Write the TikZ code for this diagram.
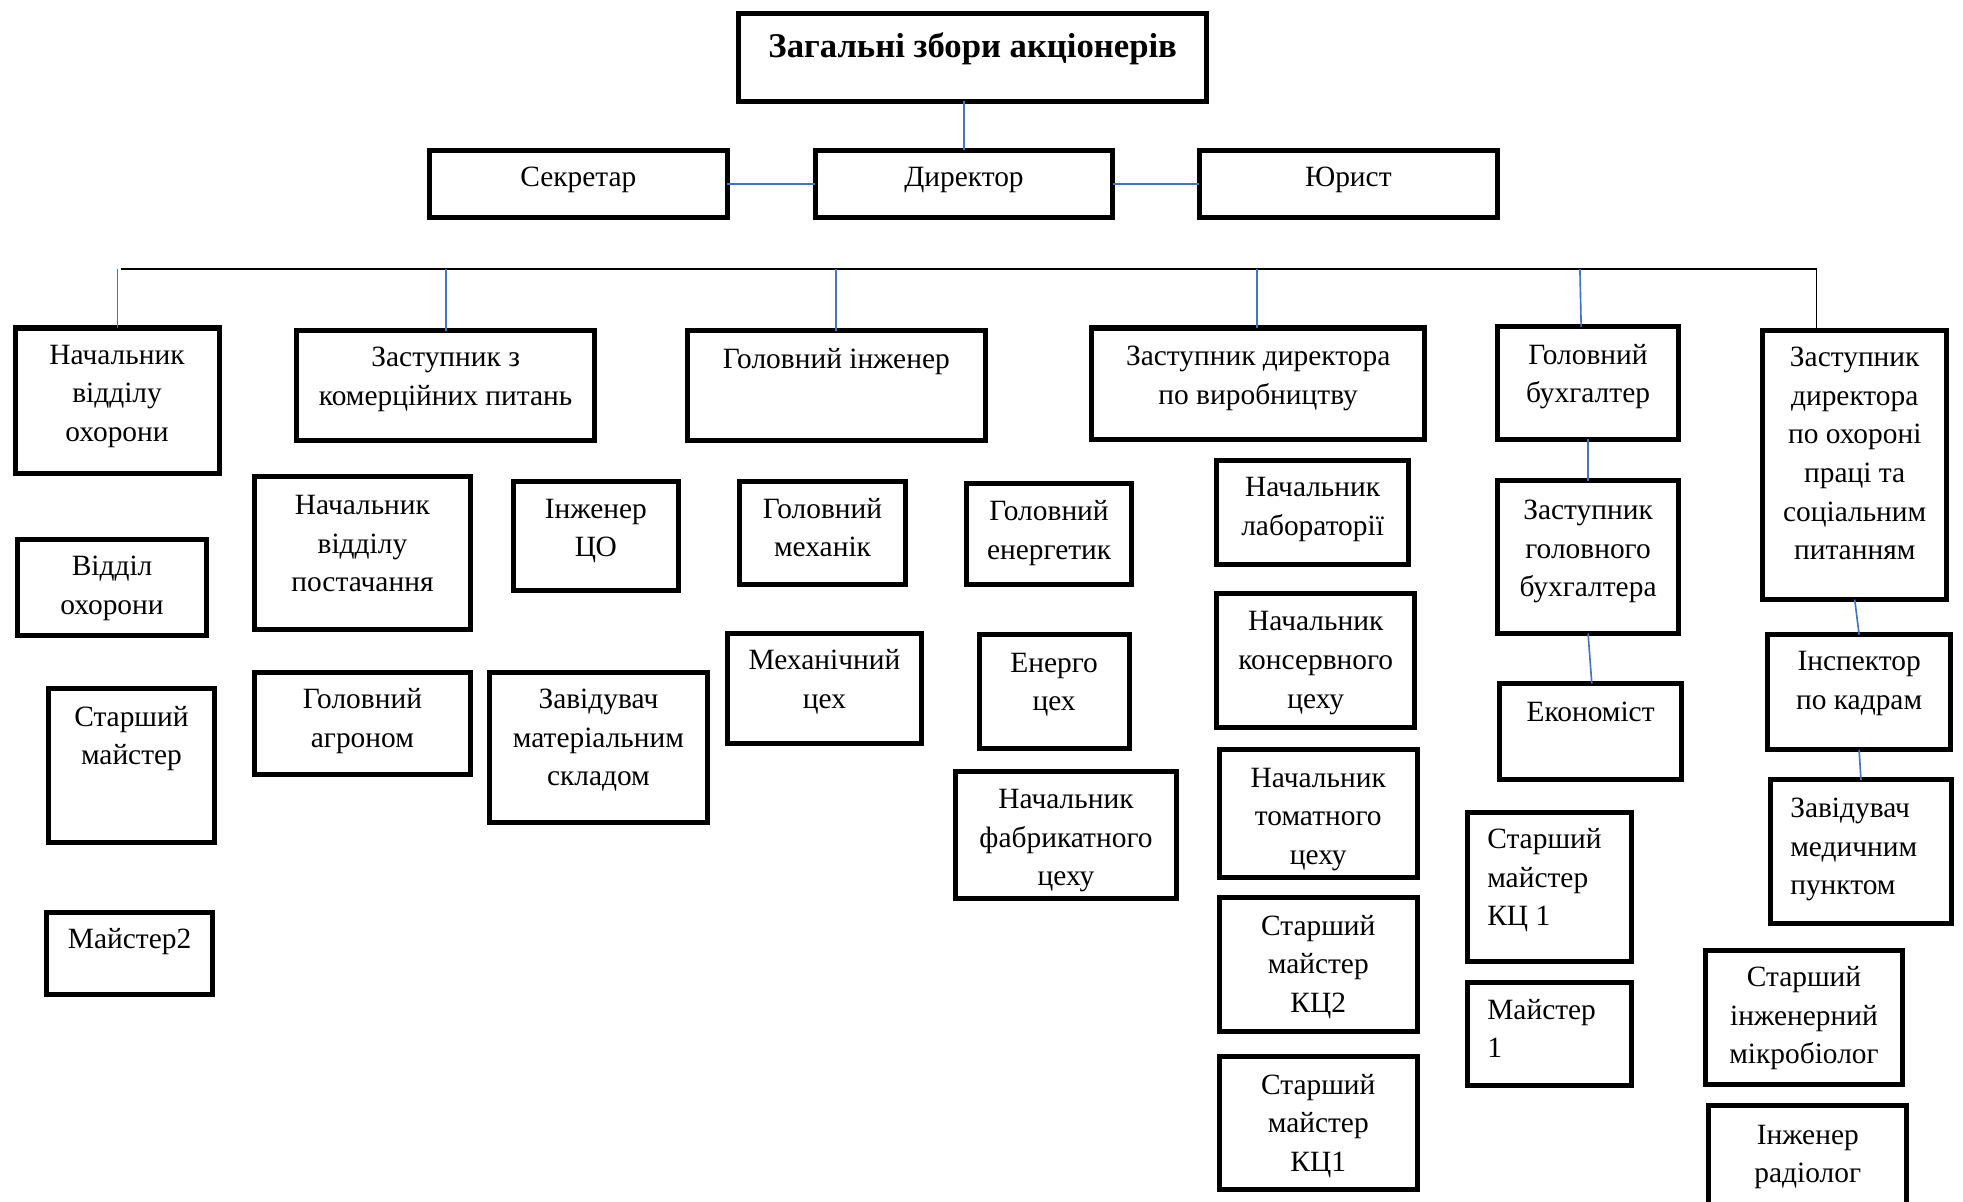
\documentclass[tikz,border=0pt]{standalone}
\usepackage{fontspec}
\setmainfont{Liberation Serif}
\definecolor{linkblue}{HTML}{4472C4}
\tikzset{
  box/.style={draw=black, line width=4pt, rectangle, inner sep=0pt, outer sep=0pt, fill=none},
  txt/.style={inner sep=0pt, outer sep=0pt, font=\fontsize{23.5}{30.8}\selectfont},
  bl/.style={draw=linkblue, line width=1.3pt},
  blk/.style={draw=black, line width=1.8pt},
}
\newcommand{\bx}[7]{%
  \node[box, minimum width={#4-#2-4}, minimum height={#5-#3-4}] (#1) at ({(#2+#4)/2},{(#3+#5)/2}) {};
  \node[txt, align=center, anchor=north] (#1t) at ({(#2+#4)/2},{#6-14.6}) {\strut#7};}
\newcommand{\bxl}[8]{%
  \node[box, minimum width={#4-#2-4}, minimum height={#5-#3-4}] (#1) at ({(#2+#4)/2},{(#3+#5)/2}) {};
  \node[txt, align=left, anchor=north west] (#1t) at (#7,{#6-14.6}) {\strut#8};}
\begin{document}
\begin{tikzpicture}[x=1pt, y=-1pt]
\useasboundingbox (0,0) rectangle (1568,960);
\clip (0,0) rectangle (1568,960);
% top levels
\node[box, minimum width=374, minimum height=70] (top) at (777,46) {};
\node[txt, anchor=north, font=\fontsize{27.7}{33}\selectfont\bfseries] (topt) at (777,{38+8-23.1}) {\strut Загальні збори акціонерів};
\bx{sec}{341}{118}{583}{176}{142}{Секретар}
\bx{dir}{649}{118}{891}{176}{142}{Директор}
\bx{jur}{956}{118}{1198}{176}{142}{Юрист}
% row 1
\bx{a1}{10}{260}{177}{380}{284}{Начальник\\відділу\\охорони}
\bx{b1}{235}{262}{477}{354}{286}{Заступник з\\комерційних питань}
\bx{c1}{547}{262}{789}{354}{287}{Головний інженер}
\bx{d1}{870}{260}{1140}{353}{285}{Заступник директора\\по виробництву}
\bx{e1}{1194}{259}{1343}{353}{284}{Головний\\бухгалтер}
\bx{f1}{1406}{262}{1557}{481}{286}{Заступник\\директора\\по охороні\\праці та\\соціальним\\питанням}
% column a
\bx{a2}{12}{429}{167}{510}{453}{Відділ\\охорони}
\bx{a3}{37}{548}{173}{675}{573}{Старший\\майстер}
\bx{a4}{35}{727}{172}{796}{751}{Майстер2}
% column b
\bx{b2}{201}{379}{378}{505}{404}{Начальник\\відділу\\постачання}
\bx{b3}{201}{535}{378}{621}{559}{Головний\\агроном}
\bx{b4}{408}{383}{544}{474}{407}{Інженер\\ЦО}
\bx{b5}{389}{535}{567}{659}{559}{Завідувач\\матеріальним\\складом}
% column c
\bx{c2}{589}{383}{725}{469}{407}{Головний\\механік}
\bx{c3}{579}{504}{738}{596}{528}{Механічний\\цех}
\bx{c4}{770}{384}{906}{469}{409}{Головний\\енергетик}
\bx{c5}{780}{505}{904}{600}{530}{Енерго\\цех}
\bx{c6}{761}{614}{942}{720}{639}{Начальник\\фабрикатного\\цеху}
% column d
\bx{d2}{970}{366}{1127}{453}{390}{Начальник\\лабораторії}
\bx{d3}{970}{472}{1132}{583}{497}{Начальник\\консервного\\цеху}
\bx{d4}{972}{597}{1134}{703}{622}{Начальник\\томатного\\цеху}
\bx{d5}{972}{715}{1134}{826}{740}{Старший\\майстер\\КЦ2}
\bx{d6}{972}{842}{1134}{952}{867}{Старший\\майстер\\КЦ1}
% column e
\bx{e2}{1194}{382}{1343}{508}{408}{Заступник\\головного\\бухгалтера}
\bx{e3}{1196}{544}{1345}{625}{569}{Економіст}
\bxl{e4}{1170}{647}{1305}{770}{671}{1188}{Старший\\майстер\\КЦ 1}
\bxl{e5}{1170}{783}{1305}{869}{807}{1188}{Майстер\\1}
% column f
\bx{f2}{1410}{505}{1560}{601}{529}{Інспектор\\по кадрам}
\bxl{f3}{1412}{621}{1561}{740}{646}{1430}{Завідувач\\медичним\\пунктом}
\bx{f4}{1360}{757}{1522}{868}{781}{Старший\\інженерний\\мікробіолог}
\bx{f5}{1363}{881}{1525}{995}{907}{Інженер\\радіолог}
% connectors top
\draw[bl] (dir.north) -- (dir.north |- top.south);
\draw[bl] (sec.east) -- (dir.west);
\draw[bl] (dir.east) -- (jur.west);
% bus
\coordinate (busL) at (97,215);
\coordinate (busR) at (1451,215);
\draw[blk] (busL) -- (busR);
\coordinate (ja) at (94,215);
\coordinate (jb) at (356,215);
\coordinate (jc) at (668,215);
\coordinate (jd) at (1004,215);
\coordinate (je) at (1262,215);
\draw[bl] (ja) -- (ja |- a1.north);
\draw[bl] (jb) -- (jb |- b1.north);
\draw[bl] (jc) -- (jc |- c1.north);
\draw[bl] (jd) -- (jd |- d1.north);
\draw[bl] (je) -- ([xshift=1pt]je |- e1.north);
\draw[draw=black, line width=1.2pt] (busR) -- (busR |- f1.north);
% inner connectors
\draw[bl] (e1.south) -- (e2.north);
\draw[bl] (e2.south) -- ([xshift=1pt]e3.north);
\draw[bl] (f1.south) -- (f2.north);
\draw[bl] (f2.south) -- (f3.north);
\end{tikzpicture}
\end{document}
